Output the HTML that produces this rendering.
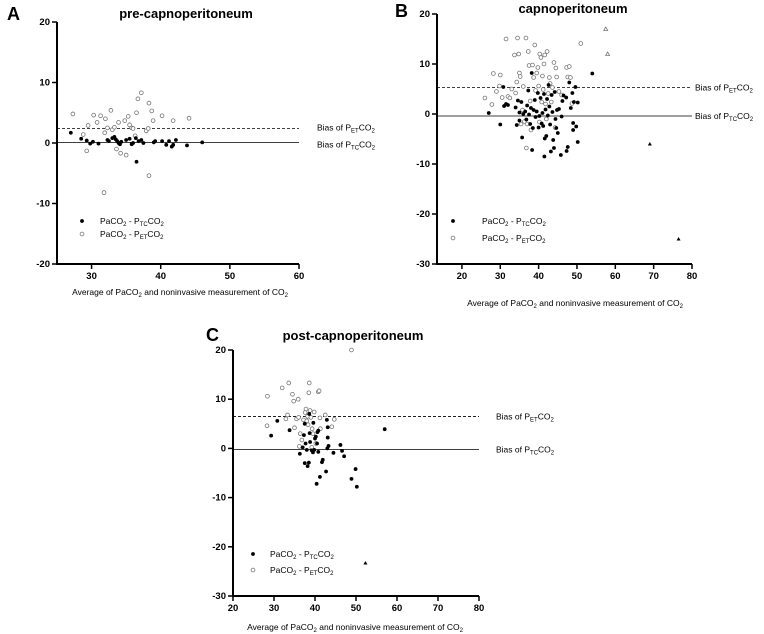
<!DOCTYPE html>
<html><head><meta charset="utf-8">
<style>
body{margin:0;background:#fff;}
svg{display:block;font-family:"Liberation Sans",Arial,sans-serif;}
.tick{font-size:9.5px;font-weight:bold;text-anchor:middle;}
.ytick{font-size:9.5px;font-weight:bold;text-anchor:end;}
.title{font-size:13px;font-weight:bold;text-anchor:middle;}
.letter{font-size:18px;font-weight:bold;}
.lab{font-size:8.5px;}
</style></head>
<body>
<svg id="chart" width="764" height="634" viewBox="0 0 764 634" xmlns="http://www.w3.org/2000/svg"></svg>
<script>
// Panel A data
const aTcX=[27,28.5,29.3,29.8,30.2,31,32.3,32.5,33,33.3,33.5,33.7,33.9,34.1,34.3,35,35.5,35.8,36,36.4,36.5,36.8,37.2,37.5,39,39.2,40.2,40.8,41.2,41.6,41.8,42.2,43.8,46];
const aTcY=[1.7,0.7,0.4,-0.1,0.2,-0.1,0.5,0.3,0.8,1,0.6,0.3,0,-0.2,0.2,0.5,0.7,-0.2,0,0.8,-3.1,0.3,0.5,0,0.1,0.3,0.3,-0.3,0.3,-0.6,-0.3,0.5,-0.4,0.1];
const aEtX=[27.3,28.8,29.3,29.5,30.3,30.8,31.3,31.8,31.9,32,32.3,32.8,33,33.3,33.6,33.9,34.2,34.8,35,35.3,35.5,35.8,36,36.3,36.5,36.7,37.2,37.9,38.2,38.3,38.3,38.7,38.9,40.2,41.8,44.1];
const aEtY=[4.8,1.4,-1.3,2.9,4.6,3.4,4.5,-8.2,1.7,4,2.5,5.4,2.2,2.6,-1,3.4,-1.7,3.7,-2,4.4,3,2.5,2.4,1.2,5,7.3,8.3,2.0,2.4,6.6,-5.4,5.3,3.7,4.5,3.7,4.1];
const aBias=[2.4,0.1];
// Panel B data
const bTcX=[27,30,30.8,31,31.5,32,34,34.3,34.6,35,35,35.5,35.7,36,36.5,36.8,37,37.3,37.5,37.8,38,38.2,38.3,38.5,38.7,39,39.2,39.5,39.8,40,40.2,40.5,40.8,41,41.2,41.4,41.6,41.5,41.8,42,42.2,42.4,42.6,42.8,43,43.2,43.4,43.6,43.8,44,44.2,44.4,44.6,44.8,45,45.3,45.8,46,46.2,46.5,47.2,47.3,47.6,48,48.4,48.8,49,49,49.2,49.6,49.8,50.2,50.2,54];
const bTcY=[0.2,-2.1,5.4,1.6,2,1.8,1.3,-2.2,2.7,-1.3,0.3,2.4,-4.7,0,0.5,-1.1,1.7,4.7,-0.1,-2,1.2,8.2,-7.2,-2.8,0.8,2.8,-0.6,0.5,4.2,-2.7,-0.4,3.2,-1.9,0.2,-2.4,4,-4.9,-8.5,0.9,-4.4,3,-0.3,5.8,1.5,-2.1,-7.5,3.8,0.4,-5.2,-6.8,4.4,-1,-2.8,0.8,-3.8,1,-8.2,-0.5,2.6,3.7,3.3,-7.4,-6.6,6.3,1.2,4.2,-1.8,-3.2,2.4,5.4,-2.5,2.3,-5.6,8.1];
const bEtX=[26,27.8,28.2,29,29.8,30,30.5,31.5,32,32.5,33,33.7,34,34.3,34.5,34.8,35,35.2,35.4,35.8,36,36.3,36.7,36.8,37,37.3,37.5,37.8,38,38.4,38.7,39,39.2,39.5,39.8,40,40.2,40.3,40.6,40.8,41,41.2,41.4,41.6,41.8,42,42.2,42.5,42.8,43,43.3,43.6,44,44.3,44.5,44.7,45.3,46,47.3,47.6,48,48.3,48.7,51];
const bEtY=[3.2,1.9,8.1,4.5,5.6,7.8,3.3,15,3.5,3.2,5,11.8,4.2,6.4,15.2,12,8.2,7.5,-2,0.8,5.5,-1.5,15.2,-6.8,-2,12.5,9.7,2.6,-3.2,9.8,7.3,13.8,4.7,8.2,9.3,5.6,-1.6,12,11.3,2.4,7.6,4.9,10,11.8,2,-1,12.5,4.1,7.3,6.1,2.4,5.3,10.3,-2.7,9.2,7.4,4.5,3.8,9.3,7.4,9.5,7.3,2.1,14.1];
const bTriTcX=[69,76.5], bTriTcY=[-6,-25];
const bTriEtX=[57.5,58], bTriEtY=[17,12];
const bBias=[5.3,-0.4];
// Panel C data
const cTcX=[29.3,30.8,33.8,36.3,37,37.3,37.5,37.5,37.7,38,38.2,38.5,38.6,38.7,38.8,39.2,39.5,39.6,39.8,40,40.2,40.4,40.5,40.6,40.8,40.8,41.2,41.7,41.9,42.7,42.9,43,43.1,43.1,43.3,44.5,46.2,46.6,47.1,48.9,49.9,50.2,57];
const cTcY=[2.6,5.6,3.7,-1.1,0.2,2.7,5,-3,1,-0.3,-3.6,-2.9,7,3.1,1.3,-0.4,-0.8,5.2,-0.3,2,2.4,-7.2,1,3.3,3.6,-0.7,-5.8,-2.8,-2.3,-4.7,5.8,0,4.3,2.2,0.5,-0.9,0.7,-0.5,-1.6,-6.2,-4.2,-7.8,3.9];
const cEtX=[28.4,28.3,32,32.9,33.3,33.6,34.5,34.8,35,35.5,35.9,36,36.2,36.4,36.8,37.2,37.6,37.8,38,38.2,38.3,38.5,38.6,38.8,39,39.2,39.3,39.5,39.8,40.2,40.8,41,41.2,41.3,42.5,44.1,44.7,48.9];
const cEtY=[10.6,4.6,12.3,6,6.8,13.3,11,9.6,4.2,6,10,6.3,0.4,3,1.7,5.8,7.3,8,5.6,6.5,4.8,11.3,13.3,7.7,6.3,0.2,4,3,7.4,1,11.5,11.7,6.2,4,6.8,4.4,5.9,20];
const cTriTcX=[52.3], cTriTcY=[-23.3];
const cBias=[6.5,-0.2];
const aXTicks=[30,40,50,60], aYTicks=[-20,-10,0,10,20];
const bXTicks=[20,30,40,50,60,70,80], bYTicks=[-30,-20,-10,0,10,20];
const cXTicks=[20,30,40,50,60,70,80], cYTicks=[-30,-20,-10,0,10,20];

const NS='http://www.w3.org/2000/svg';
const svg=document.getElementById('chart');
function mk(tag,attrs,parent,text){const e=document.createElementNS(NS,tag);for(const k in attrs)e.setAttribute(k,attrs[k]);if(text!==undefined)e.textContent=text;(parent||svg).appendChild(e);return e;}
// parts: [text, isSub(bool), dy]
function addParts(t,parts){parts.forEach(p=>{mk('tspan',p[1]===true?{'font-size':'6px',dy:'2'}:{dy:p[2]||'0'},t,p[0]);});}
function sub(parent,x,y,parts,cls){const t=mk('text',{x:x,y:y,class:cls||'lab'},parent);addParts(t,parts);return t;}
function panel(o){
  const g=mk('g',{});
  
  
  const sx=v=>o.x0+(v-o.xmin)/(o.xmax-o.xmin)*(o.x1-o.x0);
  const sy=v=>o.y1-(v-o.ymin)/(o.ymax-o.ymin)*(o.y1-o.y0);
  const ya=mk('line',{x1:o.x0,y1:o.y0,x2:o.x0,y2:o.y1,stroke:'#000','stroke-width':2},g);
  
  const xa=mk('line',{x1:o.x0-1,y1:o.y1,x2:o.x1,y2:o.y1,stroke:'#000','stroke-width':2},g);
  
  o.yt.forEach(v=>{mk('line',{x1:o.x0-5,x2:o.x0,y1:sy(v),y2:sy(v),stroke:'#000','stroke-width':1.5},g);
    const t=mk('text',{x:o.x0-7,y:sy(v)+3,class:'ytick'},g,String(v));});
  o.xt.forEach(v=>{mk('line',{x1:sx(v),x2:sx(v),y1:o.y1,y2:o.y1+5,stroke:'#000','stroke-width':1.5},g);
    const t=mk('text',{x:sx(v),y:o.y1+15,class:'tick'},g,String(v));});
  const l1=mk('line',{x1:o.x0,x2:o.x1,y1:sy(o.bias[0]),y2:sy(o.bias[0]),stroke:'#000','stroke-width':0.8,'stroke-dasharray':'3,2'},g);
  
  const l2=mk('line',{x1:o.x0,x2:o.x1,y1:sy(o.bias[1]),y2:sy(o.bias[1]),stroke:'#000','stroke-width':0.8},g);
  
  const b1=sub(g,o.blx,sy(o.bias[0])+o.b1off,[['Bias of P'],['ET',true],['CO',false,'-2'],['2',true]]);
  
  const b2=sub(g,o.blx,sy(o.bias[1])+o.b2off,[['Bias of P'],['TC',true],['CO',false,'-2'],['2',true]]);
  
  o.etX.forEach((x,i)=>{const c=mk('circle',{cx:sx(x),cy:sy(o.etY[i]),r:1.9,fill:'#fff',stroke:'#777','stroke-width':0.8},g);
    });
  o.tcX.forEach((x,i)=>{const c=mk('circle',{cx:sx(x),cy:sy(o.tcY[i]),r:1.9,fill:'#000'},g);
    });
  (o.ttX||[]).forEach((x,i)=>{const X=sx(x),Y=sy(o.ttY[i]);const p=mk('polygon',{points:`${X},${Y-2} ${X-2},${Y+1.5} ${X+2},${Y+1.5}`,fill:'#000'},g);
    });
  (o.teX||[]).forEach((x,i)=>{const X=sx(x),Y=sy(o.teY[i]);const p=mk('polygon',{points:`${X},${Y-2} ${X-2},${Y+1.5} ${X+2},${Y+1.5}`,fill:'#fff',stroke:'#777','stroke-width':0.8},g);
    });
  const lg=mk('g',{},g);
  const d1=mk('circle',{cx:o.lgx,cy:o.lgy,r:1.9,fill:'#000'},lg);
  const d2=mk('circle',{cx:o.lgx,cy:o.lgy+o.lgd,r:1.9,fill:'#fff',stroke:'#777','stroke-width':0.8},lg);
  const e1=sub(lg,o.lgx+o.lgt,o.lgy+3,[['PaCO'],['2',true],[' - P',false,'-2'],['TC',true],['CO',false,'-2'],['2',true]]);
  const e2=sub(lg,o.lgx+o.lgt,o.lgy+o.lgd+3,[['PaCO'],['2',true],[' - P',false,'-2'],['ET',true],['CO',false,'-2'],['2',true]]);
  const tt=mk('text',{x:o.tx,y:o.ty,class:'title'},g,o.title);
  const lt=mk('text',{x:o.lx,y:o.ly,class:'letter'},g,o.letter);
  const xl=mk('text',{x:o.xlx,y:o.xly,class:'lab','text-anchor':'middle'},g);
  
  addParts(xl,[['Average of PaCO'],['2',true],[' and noninvasive measurement of CO',false,'-2'],['2',true]]);
}
panel({name:'panel-a',letter:'A',lx:7,ly:20,title:'pre-capnoperitoneum',tx:186,ty:18,
  x0:57,x1:299,xmin:25,xmax:60,y0:22,y1:264,ymin:-20,ymax:20,xt:aXTicks,yt:aYTicks,bias:aBias,blx:317,b1off:2,b2off:5,
  tcX:aTcX,tcY:aTcY,etX:aEtX,etY:aEtY,lgx:82,lgy:221,lgd:13,lgt:18,xlx:180,xly:295});
panel({name:'panel-b',letter:'B',lx:395,ly:17,title:'capnoperitoneum',tx:573,ty:13,
  x0:437,x1:692,xmin:13.5,xmax:80,y0:14,y1:264,ymin:-30,ymax:20,xt:bXTicks,yt:bYTicks,bias:bBias,blx:695,b1off:3,b2off:3,
  tcX:bTcX,tcY:bTcY,etX:bEtX,etY:bEtY,ttX:bTriTcX,ttY:bTriTcY,teX:bTriEtX,teY:bTriEtY,lgx:453,lgy:221,lgd:17,lgt:29,xlx:575,xly:306});
panel({name:'panel-c',letter:'C',lx:206,ly:341,title:'post-capnoperitoneum',tx:353,ty:340,
  x0:233,x1:479,xmin:20,xmax:80,y0:350,y1:596,ymin:-30,ymax:20,xt:cXTicks,yt:cYTicks,bias:cBias,blx:496,b1off:3,b2off:3,
  tcX:cTcX,tcY:cTcY,etX:cEtX,etY:cEtY,ttX:cTriTcX,ttY:cTriTcY,lgx:253,lgy:554,lgd:16,lgt:17,xlx:355,xly:630});
</script>
</body></html>
